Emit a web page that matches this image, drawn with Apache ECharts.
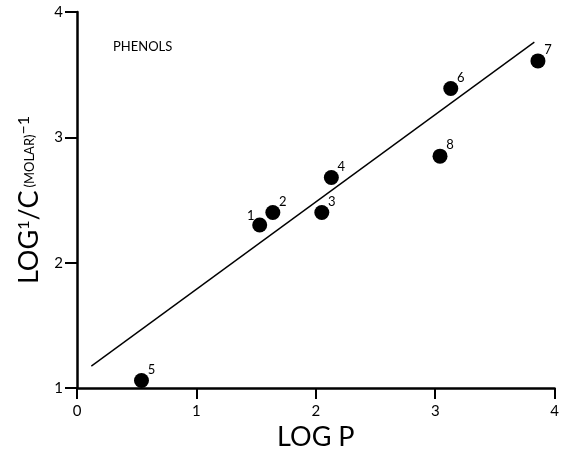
<!DOCTYPE html>
<html><head><meta charset="utf-8">
<script src="https://cdn.jsdelivr.net/npm/echarts@6/dist/echarts.min.js"></script>
<style>html,body{margin:0;padding:0;background:#fff}#c{width:562px;height:456px}</style>
</head><body><div id="c"></div>
<script>
const pointIds = ['1','2','3','4','5','6','7','8'];
const logP =     [1.53, 1.64, 2.05, 2.13, 0.54, 3.13, 3.86, 3.04];
const logInvC =  [2.30, 2.40, 2.40, 2.68, 1.06, 3.39, 3.61, 2.85];
const fitX = [0.12, 3.83];
const fitY = [1.175, 3.76];
const xTicks = [0, 1, 2, 3, 4];
const yTicks = [1, 2, 3, 4];

const FONT = 'Lato';
const chart = echarts.init(document.getElementById('c'), null, {renderer:'canvas'});
const labelOffsets = {'1':[-9,-9]};
chart.setOption({
  backgroundColor:'#fff',
  animation:false,
  title:{text:'PHENOLS', left:108, top:35, textStyle:{fontFamily:FONT, fontSize:13, fontWeight:'normal', color:'#000'}},
  grid:{left:77, right:1, top:12, bottom:67},
  xAxis:{type:'value', min:0, max:4, interval:1,
    name:'LOG P', nameLocation:'middle', nameGap:36,
    nameTextStyle:{fontFamily:FONT, fontSize:27, color:'#000'},
    axisLine:{lineStyle:{color:'#000', width:2.5, opacity:1}},
    axisTick:{inside:false, length:11, lineStyle:{color:'#000', width:2}},
    axisLabel:{margin:16, fontFamily:FONT, fontSize:15, color:'#000', formatter:v=>xTicks.includes(v)?String(v):''},
    splitLine:{show:false}},
  yAxis:{type:'value', min:1, max:4, interval:1,
    name:'{a|LOG}{s|1}{a|/C}{m|(MOLAR)}{s|−1}', nameLocation:'middle', nameGap:34, nameRotate:90,
    nameTextStyle:{fontFamily:FONT, color:'#000',
      rich:{
        a:{fontFamily:FONT, fontSize:27, color:'#000'},
        s:{fontFamily:FONT, fontSize:16, color:'#000', verticalAlign:'top'},
        m:{fontFamily:FONT, fontSize:13, color:'#000', padding:[0,0,0,3]}
      }},
    axisLine:{lineStyle:{color:'#000', width:2.5, opacity:1}},
    axisTick:{inside:false, length:12, lineStyle:{color:'#000', width:2}},
    axisLabel:{margin:14, fontFamily:FONT, fontSize:15, color:'#000', formatter:v=>yTicks.includes(v)?String(v):''},
    splitLine:{show:false}},
  series:[
    {type:'line', data:fitX.map((x,i)=>[x, fitY[i]]), symbol:'none',
     lineStyle:{color:'#000', width:1.4}, silent:true},
    {type:'scatter', symbolSize:15, itemStyle:{color:'#000', opacity:1},
     data:logP.map((x,i)=>({value:[x, logInvC[i]], name:pointIds[i],
       label:{show:true, formatter:pointIds[i], position:'inside', offset:labelOffsets[pointIds[i]]||[10,-11],
         fontFamily:FONT, fontSize:13, color:'#000'}}))}
  ]
});
</script></body></html>
